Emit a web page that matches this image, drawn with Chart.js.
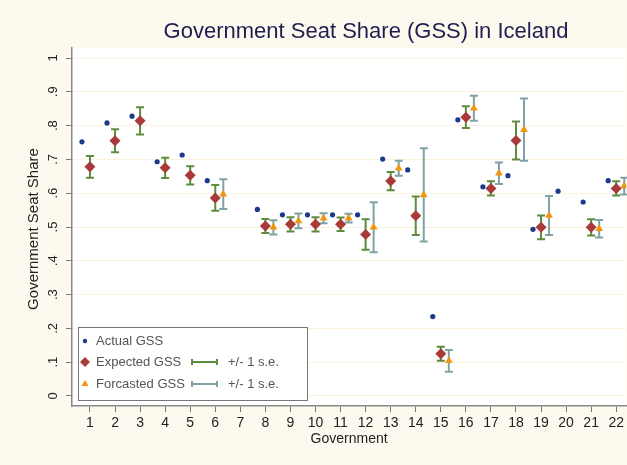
<!DOCTYPE html>
<html>
<head>
<meta charset="utf-8">
<script src="https://cdn.jsdelivr.net/npm/chart.js@4.4.1/dist/chart.umd.min.js"></script>
<style>
  html, body { margin: 0; padding: 0; background: #fdf9ef; }
  #wrap { width: 627px; height: 465px; }
</style>
</head>
<body>
<div id="wrap"><canvas id="gss" width="627" height="465"></canvas></div>
<script>
// --- Datos ---
const govs = [1, 2, 3, 4, 5, 6, 7, 8, 9, 10, 11, 12, 13, 14, 15, 16, 17, 18, 19, 20, 21, 22];
const actualGSS = [0.752, 0.808, 0.828, 0.693, 0.713, 0.637, null, 0.552, 0.536, 0.536, 0.536, 0.536, 0.701, 0.669, 0.235, 0.817, 0.619, 0.652, 0.493, 0.606, 0.574, 0.637];
const expectedGSS = [0.678, 0.755, 0.814, 0.675, 0.653, 0.586, null, 0.503, 0.508, 0.508, 0.508, 0.478, 0.636, 0.533, 0.125, 0.825, 0.614, 0.756, 0.499, null, 0.499, 0.614];
const expectedSE = [0.032, 0.034, 0.040, 0.030, 0.027, 0.038, null, 0.021, 0.021, 0.021, 0.020, 0.045, 0.027, 0.057, 0.021, 0.032, 0.021, 0.056, 0.035, null, 0.024, 0.021];
const forecastGSS = [null, null, null, null, null, 0.597, null, 0.499, 0.518, 0.526, 0.526, 0.499, 0.674, 0.595, 0.104, 0.851, 0.659, 0.788, 0.534, null, 0.495, 0.621];
const forecastSE = [null, null, null, null, null, 0.044, null, 0.021, 0.022, 0.015, 0.013, 0.074, 0.022, 0.138, 0.032, 0.037, 0.032, 0.092, 0.058, null, 0.026, 0.025];

const xTicks = [1, 2, 3, 4, 5, 6, 7, 8, 9, 10, 11, 12, 13, 14, 15, 16, 17, 18, 19, 20, 21, 22];
const yTicks = [0, 0.1, 0.2, 0.3, 0.4, 0.5, 0.6, 0.7, 0.8, 0.9, 1];
const yTickLabels = ["0", ".1", ".2", ".3", ".4", ".5", ".6", ".7", ".8", ".9", "1"];

// desplazamiento horizontal de cada serie dentro de un gobierno
const OFF_ACT = -0.32;
const OFF_FC = 0.32;

const FONT = '"Liberation Sans", Arial, sans-serif';
const C_ACT = "#1b3a8c";
const C_EXP = "#a83a3a";
const C_FC = "#ef950f";
const C_EXP_BAR = "#5e8c3e";
const C_FC_BAR = "#7fa2a4";

function points(vals, off) {
  const out = [];
  govs.forEach((g, i) => {
    if (vals[i] != null) out.push({ x: g + off, y: vals[i] });
  });
  return out;
}

// --- Barras de error (+/- 1 s.e.) ---
function drawBars(chart, vals, ses, off, color) {
  const { ctx, scales } = chart;
  const xs = scales.x, ys = scales.y;
  ctx.save();
  ctx.strokeStyle = color;
  ctx.lineWidth = 2;
  govs.forEach((g, i) => {
    if (vals[i] == null) return;
    const px = xs.getPixelForValue(g + off);
    const top = ys.getPixelForValue(vals[i] + ses[i]);
    const bot = ys.getPixelForValue(vals[i] - ses[i]);
    ctx.beginPath();
    ctx.moveTo(px, top); ctx.lineTo(px, bot);
    ctx.moveTo(px - 4, top); ctx.lineTo(px + 4, top);
    ctx.moveTo(px - 4, bot); ctx.lineTo(px + 4, bot);
    ctx.stroke();
  });
  ctx.restore();
}

function legendBar(ctx, x0, x1, y, color) {
  ctx.save();
  ctx.strokeStyle = color;
  ctx.lineWidth = 2;
  ctx.beginPath();
  ctx.moveTo(x0, y); ctx.lineTo(x1, y);
  ctx.moveTo(x0, y - 3); ctx.lineTo(x0, y + 3);
  ctx.moveTo(x1, y - 3); ctx.lineTo(x1, y + 3);
  ctx.stroke();
  ctx.restore();
}

const decor = {
  id: "decor",
  beforeDraw(chart) {
    const { ctx, chartArea: a } = chart;
    ctx.save();
    ctx.fillStyle = "#fdf9ef";
    ctx.fillRect(0, 0, chart.width, chart.height);
    ctx.fillStyle = "#ffffff";
    ctx.fillRect(a.left, a.top, a.right - a.left, a.bottom - a.top);
    // título
    ctx.fillStyle = "#1e1f4e";
    ctx.font = "22px " + FONT;
    ctx.textAlign = "center";
    ctx.textBaseline = "middle";
    ctx.fillText("Government Seat Share (GSS) in Iceland", 366, 32);
    ctx.restore();
  },
  beforeDatasetsDraw(chart) {
    drawBars(chart, expectedGSS, expectedSE, 0, C_EXP_BAR);
    drawBars(chart, forecastGSS, forecastSE, OFF_FC, C_FC_BAR);
  },
  afterDraw(chart) {
    const { ctx, scales, chartArea: a } = chart;
    ctx.save();
    // etiquetas del eje y, giradas
    ctx.fillStyle = "#222";
    ctx.font = "13px " + FONT;
    ctx.textAlign = "center";
    ctx.textBaseline = "middle";
    yTicks.forEach((v, i) => {
      const py = scales.y.getPixelForValue(v);
      ctx.save();
      ctx.translate(53, py);
      ctx.rotate(-Math.PI / 2);
      ctx.fillText(yTickLabels[i], 0, 0);
      ctx.restore();
    });
    ctx.save();
    ctx.font = "15px " + FONT;
    ctx.translate(34, (a.top + a.bottom) / 2 + 2);
    ctx.rotate(-Math.PI / 2);
    ctx.fillText("Government Seat Share", 0, 0);
    ctx.restore();

    // leyenda
    const lx = 78, ly = 327, lw = 229, lh = 73;
    ctx.fillStyle = "#ffffff";
    ctx.fillRect(lx, ly, lw, lh);
    ctx.strokeStyle = "#777";
    ctx.lineWidth = 1;
    ctx.strokeRect(lx + 0.5, ly + 0.5, lw, lh);
    const rows = [341, 362, 384];
    const H = Chart.helpers;
    ctx.fillStyle = C_ACT; ctx.strokeStyle = C_ACT;
    H.drawPoint(ctx, { pointStyle: "circle", radius: 2.2, rotation: 0, borderWidth: 0 }, 85, rows[0]);
    ctx.fillStyle = C_EXP; ctx.strokeStyle = C_EXP;
    H.drawPoint(ctx, { pointStyle: "rectRot", radius: 5, rotation: 0, borderWidth: 0 }, 85, rows[1]);
    ctx.fillStyle = C_FC; ctx.strokeStyle = C_FC;
    H.drawPoint(ctx, { pointStyle: "triangle", radius: 4, rotation: 0, borderWidth: 0 }, 85, rows[2]);
    legendBar(ctx, 192, 217, rows[1], C_EXP_BAR);
    legendBar(ctx, 192, 217, rows[2], C_FC_BAR);
    ctx.fillStyle = "#555";
    ctx.font = "13px " + FONT;
    ctx.textAlign = "left";
    ctx.fillText("Actual GSS", 96, rows[0]);
    ctx.fillText("Expected GSS", 96, rows[1]);
    ctx.fillText("Forcasted GSS", 96, rows[2]);
    ctx.fillText("+/- 1 s.e.", 228, rows[1]);
    ctx.fillText("+/- 1 s.e.", 228, rows[2]);
    ctx.restore();
  },
};

new Chart(document.getElementById("gss"), {
  type: "scatter",
  data: {
    datasets: [
      {
        label: "Actual GSS",
        data: points(actualGSS, OFF_ACT),
        pointStyle: "circle",
        pointRadius: 2.6,
        backgroundColor: C_ACT,
        borderColor: C_ACT,
        borderWidth: 0,
      },
      {
        label: "Expected GSS",
        data: points(expectedGSS, 0),
        pointStyle: "rectRot",
        pointRadius: 5.5,
        backgroundColor: C_EXP,
        borderColor: C_EXP,
        borderWidth: 0,
      },
      {
        label: "Forcasted GSS",
        data: points(forecastGSS, OFF_FC),
        pointStyle: "triangle",
        pointRadius: 4.5,
        backgroundColor: C_FC,
        borderColor: C_FC,
        borderWidth: 0,
      },
    ],
  },
  options: {
    responsive: false,
    animation: false,
    devicePixelRatio: 1,
    layout: { padding: { top: 48, left: 0, right: 0, bottom: 0 }, autoPadding: false },
    plugins: { legend: { display: false }, tooltip: { enabled: false } },
    scales: {
      x: {
        type: "linear",
        min: 0.283,
        max: 22.4,
        afterBuildTicks: (s) => { s.ticks = xTicks.map((v) => ({ value: v })); },
        afterFit: (s) => { s.height = 59; },
        grid: { drawOnChartArea: false, drawTicks: true, tickLength: 6, tickColor: "#777" },
        border: { color: "#888", width: 1.5 },
        ticks: {
          font: { family: FONT, size: 14 },
          color: "#222",
          padding: 3,
          maxRotation: 0,
          autoSkip: false,
        },
        title: {
          display: true,
          text: "Government",
          font: { family: FONT, size: 14 },
          color: "#222",
          padding: { top: 0, bottom: 17 },
        },
      },
      y: {
        type: "linear",
        min: -0.0296,
        max: 1.0296,
        afterBuildTicks: (s) => { s.ticks = yTicks.map((v) => ({ value: v })); },
        afterFit: (s) => { s.width = 72; },
        grid: { color: "#fbf1dc", lineWidth: 1, drawTicks: true, tickLength: 6, tickColor: "#777" },
        border: { color: "#888", width: 1.5 },
        ticks: { display: false },
      },
    },
  },
  plugins: [decor],
});
</script>
</body>
</html>
